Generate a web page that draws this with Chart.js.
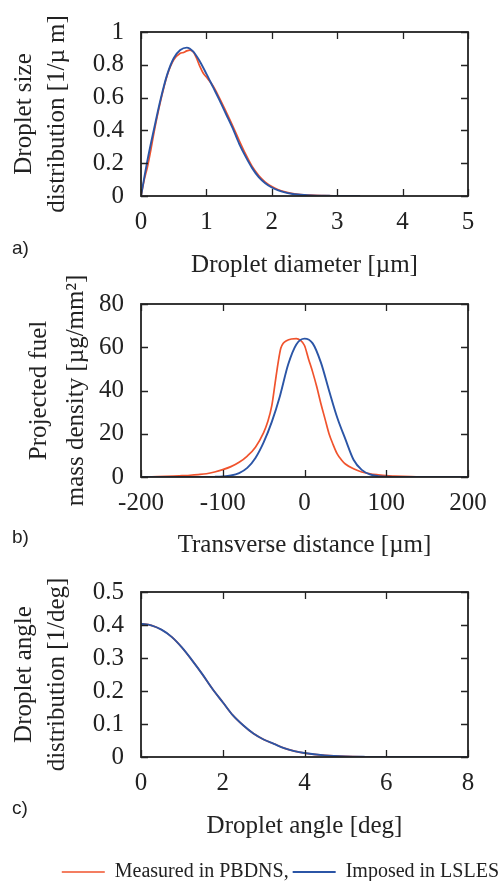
<!DOCTYPE html>
<html>
<head>
<meta charset="utf-8">
<script src="https://cdn.jsdelivr.net/npm/chart.js@4"></script>
<style>
  html, body { margin: 0; padding: 0; background: #fff; overflow: hidden; width: 503px; height: 881px; }
  canvas { position: absolute; left: 0; }
</style>
</head>
<body>
<canvas id="chartA" width="503" height="285" style="top:0px"></canvas>
<canvas id="chartB" width="503" height="305" style="top:255px"></canvas>
<canvas id="chartC" width="503" height="332" style="top:560px"></canvas>
<script>
// a) droplet size distribution
const diaImposed = [0, 0.1, 0.2, 0.3, 0.4, 0.5, 0.6, 0.7, 0.8, 0.9, 1.0, 1.1, 1.2, 1.3, 1.4, 1.5, 1.6, 1.7, 1.8, 1.9, 2.0, 2.1, 2.2, 2.3, 2.4, 2.5, 2.6, 2.7, 2.8, 2.9, 3.0, 3.2, 3.35];
const sizeImposed = [0, 0.22, 0.41, 0.59, 0.74, 0.84, 0.89, 0.905, 0.88, 0.82, 0.745, 0.665, 0.585, 0.50, 0.415, 0.32, 0.24, 0.17, 0.115, 0.078, 0.052, 0.034, 0.022, 0.014, 0.009, 0.006, 0.004, 0.0025, 0.0015, 0.001, 0.0006, 0.0002, 0];
const diaMeasured = [0, 0.05, 0.1, 0.15, 0.2, 0.3, 0.4, 0.5, 0.6, 0.65, 0.7, 0.75, 0.8, 0.85, 0.9, 0.95, 1.0, 1.1, 1.2, 1.3, 1.4, 1.5, 1.6, 1.7, 1.8, 1.9, 2.0, 2.1, 2.2, 2.3, 2.4, 2.5, 2.6, 2.8, 3.0, 3.35];
const sizeMeasured = [0, 0.1, 0.18, 0.28, 0.39, 0.58, 0.735, 0.83, 0.87, 0.875, 0.885, 0.89, 0.878, 0.84, 0.79, 0.75, 0.725, 0.672, 0.597, 0.515, 0.43, 0.34, 0.255, 0.18, 0.125, 0.085, 0.058, 0.038, 0.025, 0.016, 0.01, 0.007, 0.005, 0.002, 0.001, 0];

// b) projected fuel mass density
const posImposed = [-200, -150, -120, -110, -100, -90, -80, -70, -60, -50, -40, -30, -20, -10, 0, 10, 20, 30, 40, 50, 60, 70, 80, 90, 100, 110, 120, 200];
const densImposed = [0, 0, 0.03, 0.08, 0.25, 0.7, 1.8, 4.2, 8.8, 16, 25.5, 37.5, 52, 61.3, 64, 61.8, 53, 40, 27.5, 17.5, 8, 3.3, 1.2, 0.4, 0.12, 0.03, 0, 0];
const posMeasured = [-200, -190, -180, -170, -160, -150, -140, -130, -120, -110, -100, -90, -80, -70, -60, -50, -45, -40, -36, -32, -29, -26, -22, -16, -10, -5, 0, 5, 10, 15, 20, 25, 30, 35, 40, 45, 50, 60, 70, 80, 90, 100, 110, 120, 130, 140, 150, 160];
const densMeasured = [0.05, 0.1, 0.15, 0.25, 0.4, 0.6, 0.8, 1.1, 1.5, 2.3, 3.4, 4.8, 6.8, 9.7, 13.8, 20.5, 25.5, 33, 43.3, 53.5, 59.5, 61.8, 63, 63.8, 64, 63.2, 60.8, 54.5, 48.5, 41.7, 34, 27, 20, 15, 10.7, 8, 6, 3.8, 2.3, 1.5, 1.0, 0.6, 0.4, 0.25, 0.15, 0.1, 0.05, 0];

// c) droplet angle distribution
const angle = [0, 0.25, 0.5, 0.75, 1, 1.25, 1.5, 1.75, 2, 2.25, 2.5, 2.75, 3, 3.25, 3.5, 3.75, 4, 4.5, 5, 5.5, 6, 7, 8];
const angleImposed = [0.404, 0.399, 0.386, 0.364, 0.332, 0.293, 0.251, 0.206, 0.166, 0.126, 0.096, 0.071, 0.053, 0.04, 0.027, 0.018, 0.012, 0.005, 0.0017, 0.0005, 0.0001, 0, 0];
const angleMeasured = [0.404, 0.399, 0.386, 0.364, 0.332, 0.293, 0.251, 0.206, 0.166, 0.126, 0.096, 0.071, 0.053, 0.04, 0.027, 0.018, 0.012, 0.005, 0.0017, 0.0005, 0.0001, 0, 0];

const seriesNames = ["Measured in PBDNS,", "Imposed in LSLES"];
const RED = "#f0532d";
const BLUE = "#2b55a6";
const INK = "#222";
const SERIF = "'Liberation Serif', 'Times New Roman', serif";

Chart.defaults.font.family = SERIF;
Chart.defaults.font.size = 25;
Chart.defaults.color = INK;

const toPoints = (xs, ys) => xs.map((x, i) => ({ x: x, y: ys[i] }));
// plain numbers, "1" not "1.0"
const plainTick = v => String(+v.toFixed(3));

// frame box, inward ticks on all four sides, and the panel letter
const frameTicks = {
  id: "frameTicks",
  afterDatasetsDraw(chart, args, opts) {
    const { ctx, chartArea: a, scales } = chart;
    ctx.save();
    ctx.strokeStyle = INK;
    ctx.lineWidth = 1.3;
    ctx.beginPath();
    scales.x.ticks.forEach(t => {
      const px = Math.round(scales.x.getPixelForValue(t.value)) + 0.5;
      ctx.moveTo(px, a.bottom); ctx.lineTo(px, a.bottom - 7);
      ctx.moveTo(px, a.top); ctx.lineTo(px, a.top + 7);
    });
    scales.y.ticks.forEach(t => {
      const py = Math.round(scales.y.getPixelForValue(t.value)) + 0.5;
      ctx.moveTo(a.left, py); ctx.lineTo(a.left + 7, py);
      ctx.moveTo(a.right, py); ctx.lineTo(a.right - 7, py);
    });
    ctx.stroke();
    ctx.lineWidth = 1.8;
    ctx.strokeRect(a.left, a.top, a.right - a.left, a.bottom - a.top);
    if (opts.label) {
      ctx.fillStyle = INK;
      ctx.font = "19px 'Liberation Sans', Arial, sans-serif";
      ctx.textAlign = "left";
      ctx.textBaseline = "middle";
      ctx.fillText(opts.label, 12, opts.labelY);
    }
    ctx.restore();
  }
};

function lineSets(measured, imposed) {
  return [
    { label: seriesNames[0], data: measured, borderColor: RED, backgroundColor: RED, borderWidth: 1.7, order: 1 },
    { label: seriesNames[1], data: imposed, borderColor: BLUE, backgroundColor: BLUE, borderWidth: 1.9, order: 0 }
  ];
}

function xAxis(min, max, step, title, height, titlePad) {
  return {
    type: "linear", min: min, max: max,
    grid: { display: false, drawTicks: false }, border: { display: false },
    ticks: { stepSize: step, padding: 11, maxRotation: 0, autoSkip: false, color: INK, callback: plainTick },
    title: { display: true, text: title, color: INK, padding: { top: 0, bottom: titlePad } },
    afterFit: s => { s.height = typeof height === "function" ? height(s) : height; }
  };
}

function yAxis(max, step, title, lineH, titlePad) {
  return {
    type: "linear", min: 0, max: max,
    grid: { display: false, drawTicks: false }, border: { display: false },
    ticks: { stepSize: step, padding: 17, autoSkip: false, color: INK, callback: plainTick },
    title: { display: true, text: title, color: INK, font: { size: 25, lineHeight: lineH / 25 }, padding: { top: titlePad, bottom: 0 } },
    afterFit: s => { s.width = 141; }
  };
}

// empty right-hand axis that only reserves the 35px margin
const rightGap = {
  type: "linear", position: "right", display: true,
  grid: { display: false, drawTicks: false }, border: { display: false },
  ticks: { display: false },
  afterFit: s => { s.width = 35; }
};

function makeChart(id, datasets, x, y, pad, label, labelY, legend) {
  return new Chart(document.getElementById(id), {
    type: "line",
    data: { datasets: datasets },
    options: {
      responsive: false,
      animation: false,
      events: [],
      layout: { padding: pad },
      elements: { point: { radius: 0 }, line: { cubicInterpolationMode: "monotone" } },
      scales: { x: x, y: y, gap: rightGap },
      plugins: {
        legend: legend || { display: false },
        tooltip: { enabled: false },
        frameTicks: { label: label, labelY: labelY }
      }
    },
    plugins: [frameTicks]
  });
}

makeChart("chartA",
  lineSets(toPoints(diaMeasured, sizeMeasured), toPoints(diaImposed, sizeImposed)),
  xAxis(0, 5, 1, "Droplet diameter [µm]", 89, 5),
  yAxis(1, 0.2, ["Droplet size", "distribution [1/µ m]"], 33, 8),
  { top: 24, right: 0, bottom: 0, left: 0 }, "a)", 249);

makeChart("chartB",
  lineSets(toPoints(posMeasured, densMeasured), toPoints(posImposed, densImposed)),
  xAxis(-200, 200, 100, "Transverse distance [µm]", 83, 0),
  yAxis(80, 20, ["Projected fuel", "mass density [µg/mm²]"], 37, 21),
  { top: 49, right: 0, bottom: 0, left: 0 }, "b)", 283);

makeChart("chartC",
  lineSets(toPoints(angle, angleMeasured), toPoints(angle, angleImposed)),
  xAxis(0, 8, 2, "Droplet angle [deg]", s => 135 - (s.chart.legend ? s.chart.legend.height : 34), 17),
  yAxis(0.5, 0.1, ["Droplet angle", "distribution [1/deg]"], 33, 8),
  { top: 24, right: 0, bottom: 0, left: 0 }, "c)", 249,
  {
    display: true, position: "bottom", align: "end",
    labels: {
      usePointStyle: true, pointStyle: "line", pointStyleWidth: 43, padding: 4, color: INK,
      font: { size: 20, family: SERIF },
      sort: (a, b) => a.datasetIndex - b.datasetIndex
    }
  });
</script>
</body>
</html>
